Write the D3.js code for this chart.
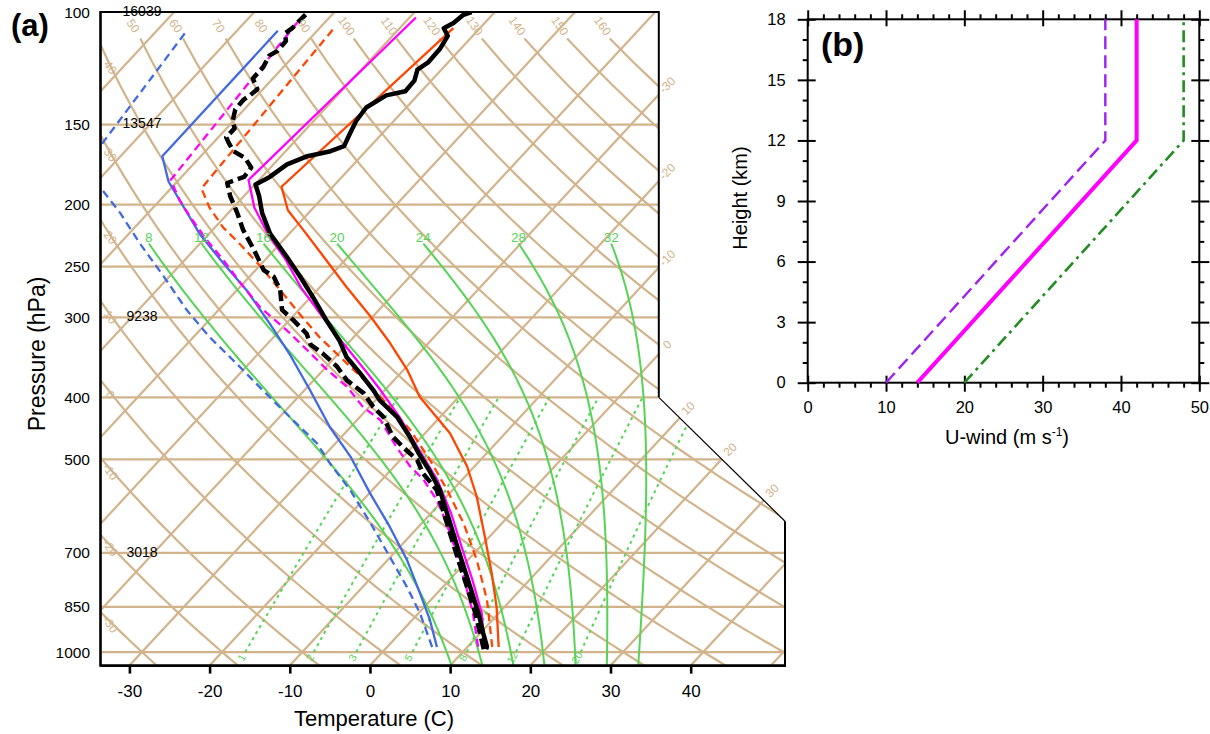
<!DOCTYPE html>
<html>
<head>
<meta charset="utf-8">
<script src="https://cdn.jsdelivr.net/npm/d3@7"></script>
<style>
  body { margin: 0; background: #fff; }
  text { font-family: "Liberation Sans", Arial, Helvetica, sans-serif; }
</style>
</head>
<body>
<svg id="chart" width="1210" height="734"></svg>
<script>
(function () {
  'use strict';

  // ---------- data ----------
  var pressureTicks = [100, 150, 200, 250, 300, 400, 500, 700, 850, 1000];
  var heightLevels = [100, 150, 300, 700];
  var heightLabels = ['16039', '13547', '9238', '3018'];
  var tempTicks = [-30, -20, -10, 0, 10, 20, 30, 40];
  var isotherms = [-100, -90, -80, -70, -60, -50, -40, -30, -20, -10, 0, 10, 20, 30, 40, 50];
  var isothermLabels = [-30, -20, -10, 0, 10, 20, 30];
  var dryAdiabats = [-30, -20, -10, 0, 10, 20, 30, 40, 50, 60, 70, 80, 90, 100, 110, 120, 130, 140, 150, 160];
  var moistAdiabats = [8, 12, 16, 20, 24, 28, 32];
  var mixingRatios = [1, 2, 3, 5, 8, 12, 20];

  // soundings, [pressure (hPa), temperature (C)]
  var blackSolid = [[990, 12.6], [981, 12.4], [935, 10.4], [870, 7.5], [791, 3.4], [718, -0.8], [668, -3.9],
    [607, -8.0], [558, -11.6], [520, -15.2], [489, -18.5], [461, -21.5], [429, -25.4], [404, -29.5],
    [390, -31.4], [367, -35.0], [346, -38.6], [326, -41.4], [303, -45.4], [279, -49.7], [259, -53.7],
    [241, -57.7], [222, -62.4], [206, -65.8], [194, -68.1], [186, -69.9], [181, -69.0], [173, -68.3],
    [168, -66.7], [165, -64.4], [162, -63.3], [155, -64.0], [148, -64.7], [141, -65.0], [135, -63.9],
    [133, -62.0], [128, -62.1], [123, -63.0], [120, -62.5], [114, -62.6], [109, -63.1], [106, -64.5],
    [104, -63.9], [101, -63.6], [100, -62.9]];
  var blackDashed = [[990, 12.3], [935, 10.0], [870, 7.1], [791, 3.0], [718, -1.2], [668, -4.3], [607, -8.4],
    [558, -12.0], [526, -15.6], [501, -17.9], [478, -21.2], [461, -23.6], [429, -27.1], [414, -29.5],
    [394, -32.3], [376, -35.9], [358, -38.7], [342, -41.9], [331, -44.5], [318, -46.3], [303, -49.5],
    [292, -52.1], [272, -54.6], [259, -57.0], [253, -59.0], [235, -62.6], [219, -66.2], [206, -68.9],
    [194, -71.7], [185, -73.6], [181, -72.2], [175, -72.4], [169, -74.3], [165, -76.5], [160, -78.1],
    [157, -79.0], [152, -79.0], [148, -80.1], [142, -81.1], [137, -81.2], [135, -80.9], [132, -80.7],
    [127, -82.5], [122, -82.5], [117, -83.1], [115, -82.6], [111, -82.7], [108, -83.7], [106, -83.4],
    [100.5, -83.3]];
  var magentaSolid = [[985, 12.2], [870, 7.9], [772, 2.9], [685, -2.3], [607, -7.5], [538, -13.1],
    [478, -19.4], [429, -25.1], [390, -30.5], [362, -34.9], [337, -39.2], [314, -43.5], [292, -47.7],
    [269, -52.4], [244, -57.4], [222, -62.7], [202, -67.4], [192, -69.4], [183, -71.3], [102, -69.2]];
  var magentaDashed = [[981, 11.3], [870, 6.8], [791, 2.9], [701, -2.2], [629, -6.9], [579, -10.8],
    [538, -14.8], [513, -18.0], [478, -22.0], [434, -27.1], [414, -30.8], [385, -35.1], [362, -39.6],
    [337, -44.4], [314, -49.2], [289, -55.2], [265, -60.4], [244, -65.2], [227, -69.6], [209, -74.3],
    [197, -77.5], [183, -81.0], [102, -83.5]];
  var orangeSolid = [[982, 13.9], [850, 9.0], [753, 4.5], [660, -0.6], [572, -6.2], [513, -10.9],
    [455, -16.9], [399, -24.9], [362, -29.6], [329, -34.8], [299, -40.3], [269, -46.7], [241, -53.1],
    [219, -58.7], [204, -62.9], [187.5, -66.4], [106, -63.3]];
  var orangeDashed = [[982, 13.1], [829, 7.0], [718, 1.1], [629, -4.8], [558, -10.7], [501, -16.3],
    [450, -22.2], [409, -28.2], [371, -34.6], [346, -39.4], [322, -44.3], [296, -49.5], [272, -54.6],
    [249, -60.0], [231, -64.8], [217, -69.0], [202, -73.0], [188.6, -76.2], [106, -78.2]];
  var blueSolid = [[982, 6.2], [891, 2.2], [810, -2.1], [718, -7.6], [637, -13.6], [565, -19.9],
    [495, -26.6], [445, -32.6], [390, -39.3], [342, -46.1], [307, -52.0], [272, -58.8], [247, -64.8],
    [222, -71.2], [197, -77.5], [184, -81.1], [168, -84.8], [107, -84.9]];
  var blueDashed = [[982, 5.6], [870, 0.2], [791, -4.5], [710, -10.1], [629, -16.4], [558, -22.8],
    [507, -28.4], [472, -32.3], [429, -38.8], [390, -45.2], [354, -51.6], [322, -58.0], [292, -64.0],
    [259, -70.7], [230, -77.5], [206, -83.5], [189, -88.6], [173, -93.3], [108, -96.2]];

  // panel (b): wind profiles
  var shearHeight = [0, 12, 18];
  var uWeak = [10, 38, 38];
  var uControl = [14, 42, 42];
  var uStrong = [20, 48, 48];
  var uTicks = [0, 10, 20, 30, 40, 50];
  var zTicks = [0, 3, 6, 9, 12, 15, 18];

  // ---------- colours ----------
  var tan = '#d2b48c', green = '#55d455';

  var svg = d3.select('#chart');

  // ---------- skew-T geometry ----------
  var left = 100.5, right1 = 658.8, right2 = 785, top = 12, bottom = 665.6;
  var skew = 0.9272;
  var yP = d3.scaleLog().domain([1050, 100]).range([bottom, top]);
  var xT = d3.scaleLinear().domain([-30, 40]).range([129.4, 690.7]);
  function sx(t, p) { return xT(t) + skew * (bottom - yP(p)); }
  var yN1 = yP(400), yN2 = yP(624.7);
  function rightEdge(y) {
    if (y <= yN1) return right1;
    if (y >= yN2) return right2;
    return right1 + (y - yN1) * (right2 - right1) / (yN2 - yN1);
  }
  var frame = [[left, top], [right1, top], [right1, yN1], [right2, yN2], [right2, bottom], [left, bottom]];

  svg.append('defs').append('clipPath').attr('id', 'skewClip')
    .append('polygon').attr('points', frame.map(function (d) { return d.join(','); }).join(' '));

  var bg = svg.append('g').attr('clip-path', 'url(#skewClip)');
  var line = d3.line().x(function (d) { return sx(d[1], d[0]); }).y(function (d) { return yP(d[0]); });

  function pRange(p0, p1, step) {
    var out = [];
    for (var p = p0; p >= p1 - 1e-6; p -= step) out.push(p);
    return out;
  }

  // isobars
  bg.selectAll('.isobar').data(pressureTicks).enter().append('line')
    .attr('x1', left).attr('x2', function (p) { return rightEdge(yP(p)); })
    .attr('y1', yP).attr('y2', yP)
    .attr('stroke', tan).attr('stroke-width', 2.2);

  // isotherms
  bg.selectAll('.isotherm').data(isotherms).enter().append('line')
    .attr('x1', function (t) { return sx(t, 1050); }).attr('y1', yP(1050))
    .attr('x2', function (t) { return sx(t, 100); }).attr('y2', yP(100))
    .attr('stroke', tan).attr('stroke-width', 2.2);

  // dry adiabats
  function dryT(theta, p) { return (theta + 273.15) * Math.pow(p / 1000, 0.2857) - 273.15; }
  var dryP = pRange(1050, 110, 10);
  bg.selectAll('.dry').data(dryAdiabats).enter().append('path')
    .attr('d', function (th) { return line(dryP.map(function (p) { return [p, dryT(th, p)]; })); })
    .attr('fill', 'none').attr('stroke', tan).attr('stroke-width', 2.2);

  // moist adiabats
  function satMix(tK, p) {
    var es = 6.112 * Math.exp(17.67 * (tK - 273.15) / (tK - 29.65));
    return 0.622 * es / (p - es);
  }
  function moistSlope(tK, p) {
    var rs = satMix(tK, p), Rd = 287.04, cp = 1005.7, Lv = 2.501e6;
    return (Rd * tK + Lv * rs) / (cp + Lv * Lv * rs * 0.622 / (Rd * tK * tK)) / p;
  }
  function moistCurve(t1000) {
    var t = t1000 + 273.15, p = 1000, h = 5, k1, k2;
    while (p < 1050) {
      k1 = moistSlope(t, p); k2 = moistSlope(t + k1 * h, p + h);
      t += 0.5 * h * (k1 + k2); p += h;
    }
    var pts = [[p, t - 273.15]];
    while (p > 230) {
      k1 = moistSlope(t, p); k2 = moistSlope(t - k1 * h, p - h);
      t -= 0.5 * h * (k1 + k2); p -= h;
      pts.push([p, t - 273.15]);
    }
    return pts;
  }
  var moistData = moistAdiabats.map(function (t) { return {t: t, pts: moistCurve(t)}; });
  bg.selectAll('.moist').data(moistData).enter().append('path')
    .attr('d', function (d) { return line(d.pts); })
    .attr('fill', 'none').attr('stroke', green).attr('stroke-width', 2);

  // mixing ratio lines
  function mixTd(w, p) {
    var e = w * p / (622 + w), l = Math.log(e / 6.112);
    return 243.5 * l / (17.67 - l);
  }
  var mixP = pRange(1000, 400, 20);
  bg.selectAll('.mix').data(mixingRatios).enter().append('path')
    .attr('d', function (w) { return line(mixP.map(function (p) { return [p, mixTd(w, p)]; })); })
    .attr('fill', 'none').attr('stroke', green).attr('stroke-width', 2).attr('stroke-dasharray', '3,4');

  // ---------- soundings ----------
  var prof = svg.append('g').attr('clip-path', 'url(#skewClip)');
  var profiles = [
    {d: blueDashed, c: '#4169e1', w: 2.3, dash: '8,5'},
    {d: blueSolid, c: '#4169e1', w: 2.3, dash: null},
    {d: orangeDashed, c: '#ff4500', w: 2.3, dash: '8,5'},
    {d: orangeSolid, c: '#ff4500', w: 2.3, dash: null},
    {d: magentaDashed, c: '#ff00ff', w: 2.3, dash: '8,5'},
    {d: magentaSolid, c: '#ff00ff', w: 2.3, dash: null},
    {d: blackDashed, c: '#000', w: 4.5, dash: '11,5'},
    {d: blackSolid, c: '#000', w: 4.5, dash: null}
  ];
  profiles.forEach(function (s) {
    prof.append('path').attr('d', line(s.d))
      .attr('fill', 'none').attr('stroke', s.c).attr('stroke-width', s.w)
      .attr('stroke-linejoin', 'round')
      .attr('stroke-dasharray', s.dash);
  });

  // ---------- background labels ----------
  var lab = svg.append('g');

  // isotherm labels on the right boundary
  isothermLabels.forEach(function (t) {
    var lo = top, hi = bottom, mid;
    for (var i = 0; i < 40; i++) {
      mid = (lo + hi) / 2;
      if (xT(t) + skew * (bottom - mid) - rightEdge(mid) > 0) lo = mid; else hi = mid;
    }
    var x = rightEdge(mid) + 9, y = mid - 9;
    lab.append('text').attr('transform', 'translate(' + [x, y] + ') rotate(-45)')
      .attr('text-anchor', 'middle').attr('dominant-baseline', 'middle')
      .attr('font-size', 12).attr('fill', tan).text(t);
  });

  // dry adiabat labels: top ends or left edge
  dryAdiabats.forEach(function (th) {
    var xe = sx(dryT(th, 110), 110), x, y;
    if (xe > left + 6) {
      x = xe - 8; y = yP(110) - 12;
    } else {
      var lo = 1050, hi = 110, mid;
      for (var i = 0; i < 40; i++) {
        mid = Math.sqrt(lo * hi);
        if (sx(dryT(th, mid), mid) > left + 9) lo = mid; else hi = mid;
      }
      x = left + 9; y = yP(mid) + 4;
    }
    lab.append('text').attr('transform', 'translate(' + [x, y] + ') rotate(55)')
      .attr('text-anchor', 'middle').attr('dominant-baseline', 'middle')
      .attr('font-size', 12).attr('fill', tan).text(th);
  });

  // moist adiabat labels
  moistData.forEach(function (d) {
    var last = d.pts[d.pts.length - 1];
    lab.append('text').attr('x', sx(last[1], last[0])).attr('y', yP(last[0]) - 2)
      .attr('text-anchor', 'middle').attr('font-size', 13.5).attr('fill', green).text(d.t);
  });

  // mixing ratio labels
  mixingRatios.forEach(function (w) {
    var x = sx(mixTd(w, 1000), 1000) - 3, y = yP(1000) + 6;
    lab.append('text').attr('transform', 'translate(' + [x, y] + ') rotate(-60)')
      .attr('text-anchor', 'middle').attr('dominant-baseline', 'middle')
      .attr('font-size', 10.5).attr('fill', green).text(w);
  });

  // standard heights
  heightLevels.forEach(function (p, i) {
    lab.append('text').attr('x', 142).attr('y', yP(p))
      .attr('text-anchor', 'middle').attr('dominant-baseline', 'middle')
      .attr('font-size', 14).attr('fill', '#000').text(heightLabels[i]);
  });

  // ---------- frame and axes of (a) ----------
  svg.append('polyline')
    .attr('points', [[left, top], [right1, top], [right1, yN1]].map(function (d) { return d.join(','); }).join(' '))
    .attr('fill', 'none').attr('stroke', '#000').attr('stroke-width', 2);
  svg.append('line').attr('x1', right1).attr('y1', yN1).attr('x2', right2).attr('y2', yN2)
    .attr('stroke', '#000').attr('stroke-width', 1.2);
  svg.append('line').attr('x1', right2).attr('y1', yN2).attr('x2', right2).attr('y2', bottom)
    .attr('stroke', '#000').attr('stroke-width', 2);
  svg.append('line').attr('x1', left).attr('y1', top - 1).attr('x2', left).attr('y2', bottom + 1.2)
    .attr('stroke', '#000').attr('stroke-width', 2.6);
  svg.append('line').attr('x1', left).attr('y1', bottom).attr('x2', right2 + 1).attr('y2', bottom)
    .attr('stroke', '#000').attr('stroke-width', 2.6);

  var xAxisA = svg.append('g').attr('transform', 'translate(0,' + bottom + ')')
    .call(d3.axisBottom(xT).tickValues(tempTicks).tickSize(8).tickPadding(11)
      .tickFormat(function (d) { return String(d); }));
  xAxisA.select('.domain').remove();
  xAxisA.selectAll('line').attr('stroke-width', 2.6);
  xAxisA.selectAll('text').attr('font-size', 17).attr('font-family', '"Liberation Sans", Arial, sans-serif');

  pressureTicks.forEach(function (p) {
    svg.append('text').attr('x', 90).attr('y', yP(p) + 5.5)
      .attr('text-anchor', 'end').attr('font-size', 15.5).text(p);
  });

  svg.append('text').attr('x', 374).attr('y', 726).attr('text-anchor', 'middle')
    .attr('font-size', 22).text('Temperature (C)');
  svg.append('text').attr('transform', 'translate(39,354) rotate(-90)')
    .attr('text-anchor', 'middle').attr('dominant-baseline', 'middle')
    .attr('font-size', 23).text('Pressure (hPa)');
  svg.append('text').attr('x', 11).attr('y', 36).attr('font-size', 31).attr('font-weight', 'bold').text('(a)');

  // ---------- panel (b) ----------
  var bL = 807.7, bR = 1199.3, bT = 19.3, bB = 382.7;
  var xU = d3.scaleLinear().domain([0, 50]).range([bL, bR]);
  var yZ = d3.scaleLinear().domain([0, 18]).range([bB, bT]);
  var uMinor = d3.range(0, 51, 2).filter(function (v) { return v % 10 !== 0; });
  var zMinor = d3.range(0, 19, 1).filter(function (v) { return v % 3 !== 0; });

  var pb = svg.append('g');
  function styleAxis(g, labels) {
    g.select('.domain').remove();
    g.selectAll('line').attr('stroke', '#000').attr('stroke-width', 2);
    if (!labels) g.selectAll('text').remove();
    else g.selectAll('text').attr('font-size', 16.5).attr('font-family', '"Liberation Sans", Arial, sans-serif');
  }
  // bottom
  pb.append('g').attr('transform', 'translate(0,' + bB + ')')
    .call(d3.axisBottom(xU).tickValues(uTicks).tickSize(9).tickPadding(10)).call(styleAxis, true);
  pb.append('g').attr('transform', 'translate(0,' + bB + ')')
    .call(d3.axisBottom(xU).tickValues(uTicks).tickSize(-7)).call(styleAxis, false);
  pb.append('g').attr('transform', 'translate(0,' + bB + ')')
    .call(d3.axisBottom(xU).tickValues(uMinor).tickSize(5)).call(styleAxis, false);
  // top
  pb.append('g').attr('transform', 'translate(0,' + bT + ')')
    .call(d3.axisTop(xU).tickValues(uTicks).tickSize(9)).call(styleAxis, false);
  pb.append('g').attr('transform', 'translate(0,' + bT + ')')
    .call(d3.axisTop(xU).tickValues(uTicks).tickSize(-7)).call(styleAxis, false);
  pb.append('g').attr('transform', 'translate(0,' + bT + ')')
    .call(d3.axisTop(xU).tickValues(uMinor).tickSize(5)).call(styleAxis, false);
  // left
  pb.append('g').attr('transform', 'translate(' + bL + ',0)')
    .call(d3.axisLeft(yZ).tickValues(zTicks).tickSize(10).tickPadding(12)).call(styleAxis, true);
  pb.append('g').attr('transform', 'translate(' + bL + ',0)')
    .call(d3.axisLeft(yZ).tickValues(zTicks).tickSize(-8)).call(styleAxis, false);
  pb.append('g').attr('transform', 'translate(' + bL + ',0)')
    .call(d3.axisLeft(yZ).tickValues(zMinor).tickSize(5)).call(styleAxis, false);
  // right
  pb.append('g').attr('transform', 'translate(' + bR + ',0)')
    .call(d3.axisRight(yZ).tickValues(zTicks).tickSize(10)).call(styleAxis, false);
  pb.append('g').attr('transform', 'translate(' + bR + ',0)')
    .call(d3.axisRight(yZ).tickValues(zTicks).tickSize(-8)).call(styleAxis, false);
  pb.append('g').attr('transform', 'translate(' + bR + ',0)')
    .call(d3.axisRight(yZ).tickValues(zMinor).tickSize(5)).call(styleAxis, false);

  pb.append('rect').attr('x', bL).attr('y', bT).attr('width', bR - bL).attr('height', bB - bT)
    .attr('fill', 'none').attr('stroke', '#000').attr('stroke-width', 2);

  var windLine = d3.line().x(function (d) { return xU(d[1]); }).y(function (d) { return yZ(d[0]); });
  var winds = [
    {u: uWeak, c: '#a020f0', w: 2.4, dash: '13,6'},
    {u: uStrong, c: '#228b22', w: 2.6, dash: '12,5,3,5'},
    {u: uControl, c: '#ff00ff', w: 4, dash: null}
  ];
  winds.forEach(function (s) {
    pb.append('path').attr('d', windLine(d3.zip(shearHeight, s.u)))
      .attr('fill', 'none').attr('stroke', s.c).attr('stroke-width', s.w)
      .attr('stroke-dasharray', s.dash);
  });

  var xl = pb.append('text').attr('x', 1007).attr('y', 444).attr('text-anchor', 'middle').attr('font-size', 20);
  xl.append('tspan').text('U-wind (m s');
  xl.append('tspan').attr('font-size', 12).attr('dy', -8).text('-1');
  xl.append('tspan').attr('dy', 8).text(')');
  pb.append('text').attr('transform', 'translate(742,198) rotate(-90)')
    .attr('text-anchor', 'middle').attr('dominant-baseline', 'middle')
    .attr('font-size', 20).text('Height (km)');
  pb.append('text').attr('x', 821).attr('y', 56).attr('font-size', 34).attr('font-weight', 'bold').text('(b)');
}());
</script>
</body>
</html>
